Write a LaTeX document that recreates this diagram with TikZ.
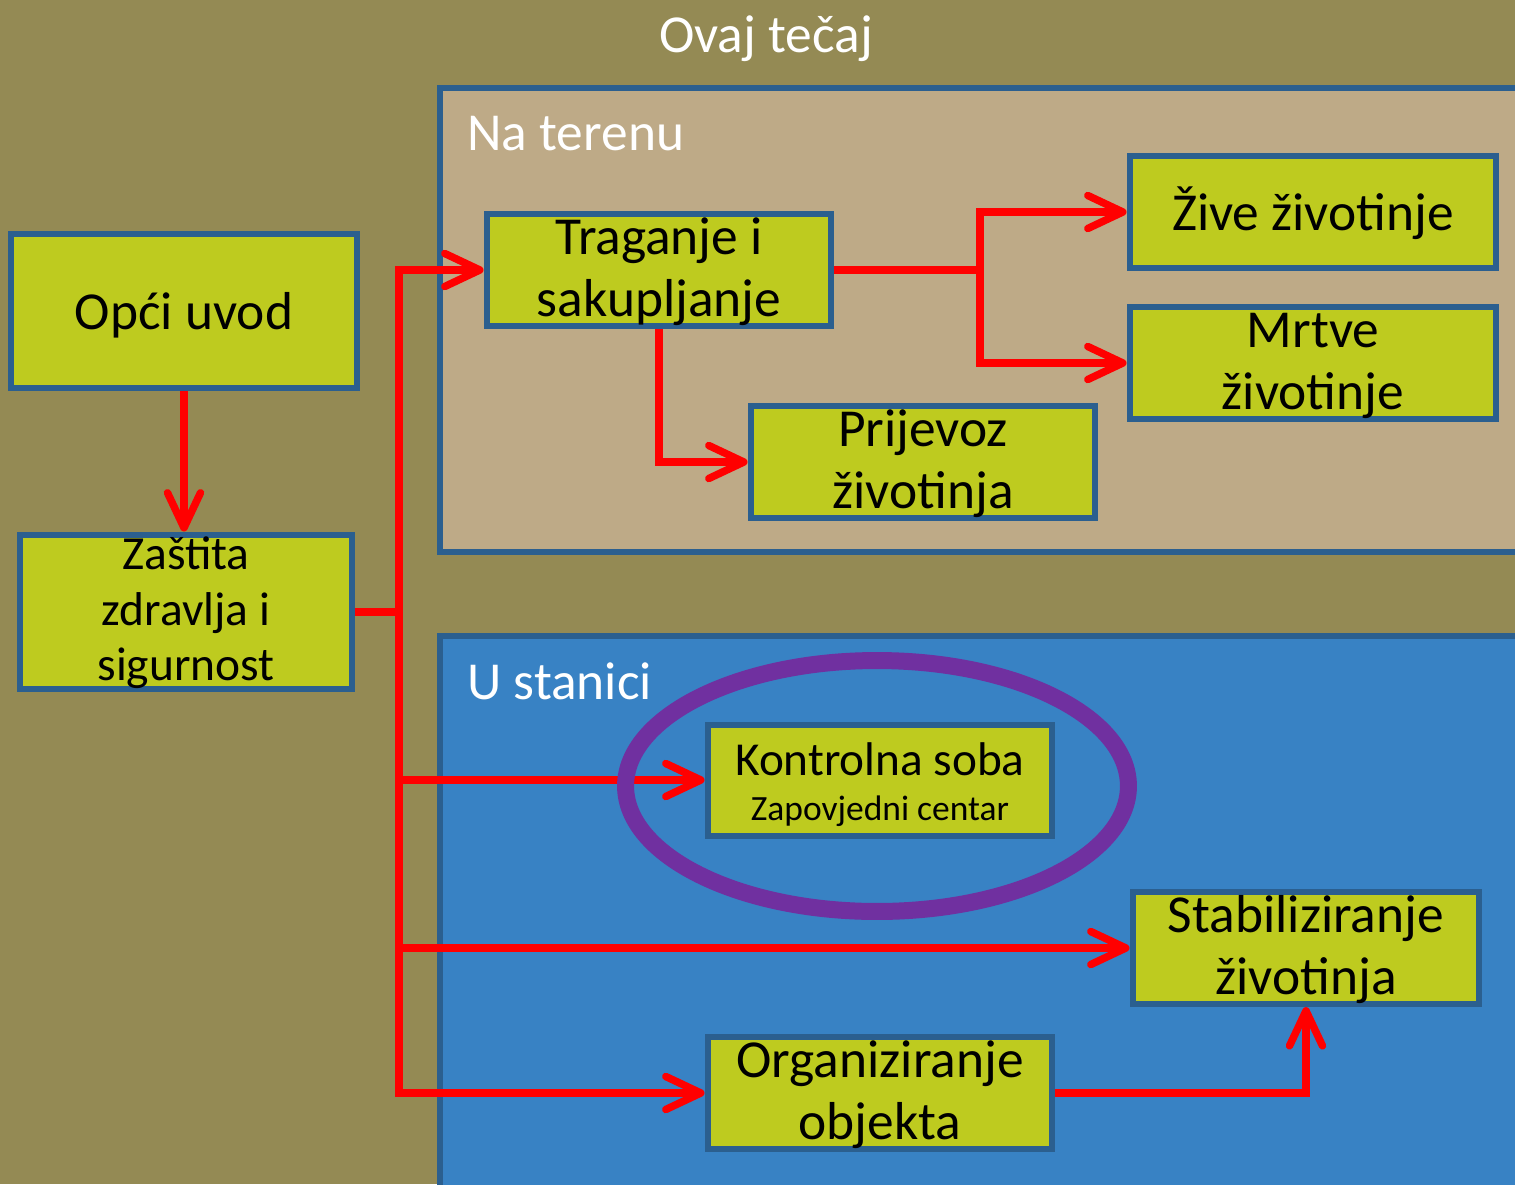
\documentclass[tikz,border=0pt]{standalone}
\usepackage{fontspec}
\setmainfont{Carlito}
\usepackage{tikz}
\usetikzlibrary{arrows.meta}

\definecolor{olivebg}{HTML}{948A54}
\definecolor{tanbg}{HTML}{BEAA87}
\definecolor{bluebg}{HTML}{3882C4}
\definecolor{boxfill}{HTML}{BECB1F}
\definecolor{boxline}{HTML}{2B5F8F}
\definecolor{ringcol}{HTML}{7030A0}

% struts that set the text a little low in the boxes
\newcommand{\upline}[1][1cm]{\rule{0pt}{#1}}
\newcommand{\downline}{\rule[-0.28cm]{0pt}{0pt}}

\tikzset{
  box/.style = {draw=boxline, line width=0.12cm, fill=boxfill, align=center,
                inner sep=0pt, minimum width=6.9cm, minimum height=2.24cm,
                font=\fontsize{30.4}{35.3}\selectfont},
  oneline/.style = {execute at begin node=\upline, execute at end node=\downline},
  arr/.style = {draw=red, line width=0.15cm, -{Straight Barb[length=0.7cm, width=0.66cm, round]}},
  link/.style = {draw=red, line width=0.15cm},
  panel/.style = {draw=boxline, line width=0.12cm},
  paneltitle/.style = {text=white, font=\fontsize{30.4}{35.3}\selectfont, inner sep=0pt}
}

\begin{document}
\begin{tikzpicture}[x=0.02cm, y=-0.02cm]
  \useasboundingbox (0,0) rectangle (1515,1184);
  \clip (0,0) rectangle (1515,1184);
  \fill[olivebg] (0,0) rectangle (1515,1184);

  % panels
  \draw[panel, fill=tanbg] (440,88) rectangle (1540,552);
  \draw[panel, fill=bluebg] (440,636) rectangle (1540,1220);

  \node[paneltitle, anchor=base] (title) at (766,52) {Ovaj tečaj};
  \node[paneltitle, anchor=base west] (teren) at (467,150) {Na terenu};
  \node[paneltitle, anchor=base west] (stanica) at (467,699) {U stanici};

  % boxes
  \node[box, oneline, minimum width=6.92cm, minimum height=3.08cm] (opci) at (184,311) {Opći uvod};
  \node[box, minimum width=6.64cm, minimum height=3.1cm, font=\fontsize{27}{31.6}\selectfont] (zastita) at (186,612) {\upline[0.69cm]Zaštita\\zdravlja i\\sigurnost};
  \node[box] (traganje) at (659,270) {\upline[0.82cm]Traganje i\\sakupljanje};
  \node[box] (prijevoz) at (923,462) {\upline[0.82cm]Prijevoz\\životinja};
  \node[box, oneline, minimum width=7.34cm] (zive) at (1313,212) {Žive životinje};
  \node[box, minimum width=7.34cm, minimum height=2.2cm] (mrtve) at (1313,363) {\upline[0.82cm]Mrtve\\životinje};
  \node[box, minimum height=2.22cm, font=\fontsize{26.9}{25.6}\selectfont] (kontrolna) at (880,780) {\upline Kontrolna soba\\{\fontsize{20.2}{25.6}\selectfont Zapovjedni centar\downline}};
  \node[box, minimum width=6.94cm] (stabil) at (1306,948) {\upline[0.82cm]Stabiliziranje\\životinja};
  \node[box, minimum height=2.22cm] (organiz) at (880,1093) {\upline[0.82cm]Organiziranje\\objekta};

  % connectors
  \coordinate (trunk) at (399,612);
  \coordinate (split) at (980,270);
  \draw[arr] (opci.south) -- (opci.south |- zastita.north);
  \draw[link] (zastita.east) -- (trunk);
  \draw[arr] (trunk) |- (traganje.west);
  \draw[arr] (trunk) |- (kontrolna.west);
  \draw[arr] (trunk) |- (stabil.west);
  \draw[arr] (trunk) |- (organiz.west);
  \draw[link] (traganje.east) -- (split);
  \draw[arr] (split) |- (zive.west);
  \draw[arr] (split) |- (mrtve.west);
  \draw[arr] (traganje.south) |- (prijevoz.west);
  \draw[arr] (organiz.east) -| (stabil.south);

  \draw[ringcol, line width=0.34cm] (877,786) ellipse [x radius=5.03cm, y radius=2.51cm];
\end{tikzpicture}
\end{document}
